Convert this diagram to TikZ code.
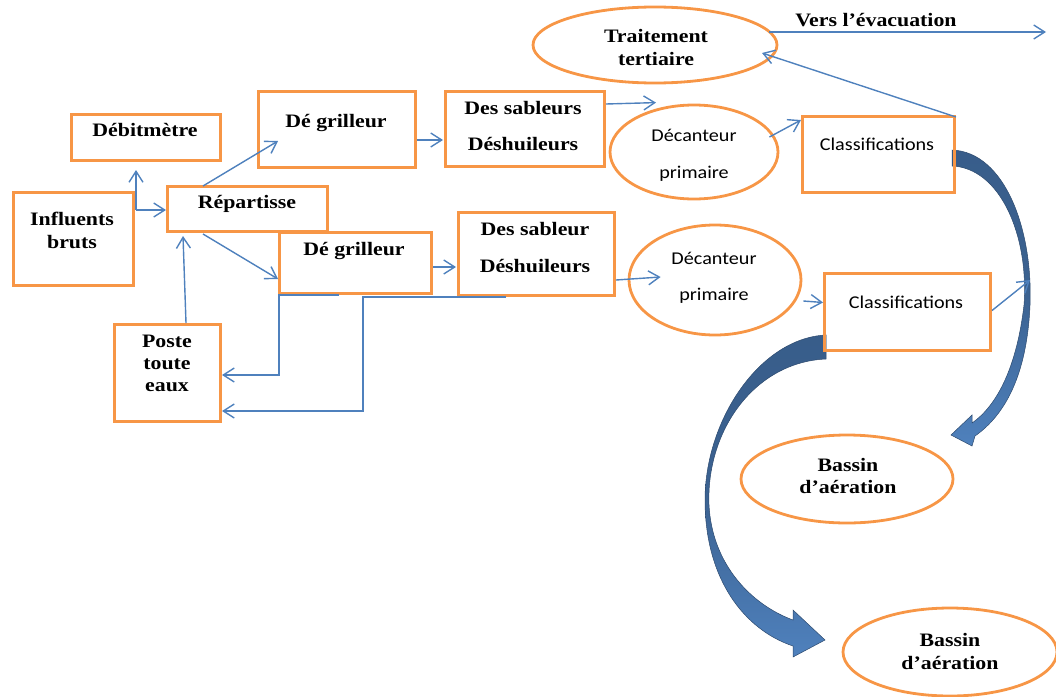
\documentclass[tikz,border=0pt]{standalone}
\usepackage{fontspec}
\usetikzlibrary{arrows.meta,shapes.geometric,calc}
\newfontfamily\tnr[FakeStretch=1.15]{Liberation Serif}
\newfontfamily\calib[FakeStretch=1.12]{Carlito}
\definecolor{orng}{RGB}{247,150,70}
\definecolor{lineblue}{RGB}{79,129,189}
\definecolor{darkb}{RGB}{56,93,138}
\definecolor{lightb}{RGB}{79,129,189}
\begin{document}
\begin{tikzpicture}[x=1pt,y=-1pt,
 box/.style={draw=orng,line width=3pt,rectangle,inner sep=0pt,anchor=north west},
 oval/.style={draw=orng,line width=2.8pt,ellipse,inner sep=0pt},
 tl/.style={font=\tnr\bfseries\fontsize{19}{22}\selectfont,inner sep=0pt,anchor=base},
 sl/.style={font=\calib\fontsize{18}{22}\selectfont,inner sep=0pt,anchor=base},
 flow/.style={draw=lineblue,line width=1.4pt,-{Straight Barb[length=11pt,width=14pt]}},
 bigarrow/.style={top color=darkb,bottom color=lightb,middle color=darkb!85!lightb,draw=darkb!80!black,line width=0.5pt}]
\useasboundingbox (0,0) rectangle (1056,696);

% thick curved arrows
\path[bigarrow] (952,150) .. controls (1005,152) and (1033,230) .. (1030,305)
  .. controls (1027,375) and (1005,415) .. (975,436) -- (972,446) -- (951,435) -- (972,415) -- (972,423)
  .. controls (998,405) and (1017,365) .. (1024,305)
  .. controls (1029,235) and (1000,168) .. (952,166) -- cycle;
\path[bigarrow] (826,335) .. controls (760,338) and (705,420) .. (705,500)
  .. controls (705,580) and (745,630) .. (793,646) -- (793,657) -- (825,640) -- (793,610) -- (793,620)
  .. controls (752,605) and (712,565) .. (709,505)
  .. controls (706,430) and (755,362) .. (826,359) -- cycle;

% boxes
\node[box,minimum width=149pt,minimum height=46pt] (deb) at (70,113) {};
\node[box,minimum width=120pt,minimum height=93pt] (inf) at (12,191) {};
\node[box,minimum width=160pt,minimum height=45pt] (rep) at (166,185) {};
\node[box,minimum width=157pt,minimum height=76pt] (dg1) at (257,90) {};
\node[box,minimum width=159pt,minimum height=75pt] (ds1) at (444,90) {};
\node[box,minimum width=152pt,minimum height=61pt] (dg2) at (278,231) {};
\node[box,minimum width=156pt,minimum height=83pt] (ds2) at (457,211) {};
\node[box,minimum width=152pt,minimum height=76pt] (cl1) at (801,115) {};
\node[box,minimum width=166pt,minimum height=77pt] (cl2) at (823,272) {};
\node[box,minimum width=106pt,minimum height=97pt] (poste) at (113,323) {};

% ellipses
\node[oval,minimum width=244pt,minimum height=76pt] (tt) at (655,45) {};
\node[oval,minimum width=168pt,minimum height=94pt] (dec1) at (694,152) {};
\node[oval,minimum width=172pt,minimum height=110pt] (dec2) at (715,280) {};
\node[oval,minimum width=212pt,minimum height=88pt] (bas1) at (847,479) {};
\node[oval,minimum width=214pt,minimum height=88pt] (bas2) at (950,652) {};

% texts
\node[tl] (tdeb) at (145,136) {Débitmètre};
\node[tl] (tinf1) at (72,225) {Influents};
\node[tl] (tinf2) at (72,248) {bruts};
\node[tl] (trep) at (247,208) {Répartisse};
\node[tl] (tdg1) at (336,127) {Dé grilleur};
\node[tl] (tdg2) at (354,255) {Dé grilleur};
\node[tl] (tp1) at (167,347) {Poste};
\node[tl] (tp2) at (167,369) {toute};
\node[tl] (tp3) at (167,391) {eaux};
\node[tl] (tds1a) at (523,114) {Des sableurs};
\node[tl] (tds1b) at (523,150) {Déshuileurs};
\node[tl] (tds2a) at (535,235) {Des sableur};
\node[tl] (tds2b) at (535,272) {Déshuileurs};
\node[tl] (ttt1) at (656,42) {Traitement};
\node[tl] (ttt2) at (656,65) {tertiaire};
\node[tl] (tevac) at (876,26) {Vers l’évacuation};
\node[tl] (tb1a) at (848,471) {Bassin};
\node[tl] (tb1b) at (848,493) {d’aération};
\node[tl] (tb2a) at (950,646) {Bassin};
\node[tl] (tb2b) at (950,669) {d’aération};
\node[sl] (tdc1a) at (694,141) {Décanteur};
\node[sl] (tdc1b) at (694,178) {primaire};
\node[sl] (tdc2a) at (714,264) {Décanteur};
\node[sl] (tdc2b) at (714,300) {primaire};
\node[sl] (tcl1) at (877,150) {Classifications};
\node[sl] (tcl2) at (906,308) {Classifications};

% connectors
\coordinate (j1) at ($(inf.north east)+(1,19)$);
\draw[flow] (j1) -- (j1 -| rep.west);
\draw[flow] (j1) -- ($(j1 |- deb.south)+(0,8)$);
\draw[flow] ($(rep.north west)+(37,1)$) -- ($(dg1.south west)+(21,-28)$);
\draw[flow] ($(rep.south west)+(37,1)$) -- ($(dg2.south west)+(0,-16)$);
\draw[flow] ($(poste.north west)+(73,0)$) -- ($(rep.south west)+(17,3)$);
\draw[flow] ($(dg1.south east)+(0,-29)$) -- ($(ds1.south west)+(-1,-28)$);
\draw[flow] ($(dg2.south east)+(0,-28)$) -- ($(ds2.south west)+(-1,-30)$);
\draw[flow] ($(ds1.north east)+(0,14)$) -- ($(dec1.north)+(-38,-1)$);
\draw[flow] ($(ds2.south east)+(0,-17)$) -- ($(dec2.west)+(33,-3)$);
\draw[flow] ($(dec1.east)+(-10,-15)$) -- ($(cl1.north west)+(0,5)$);
\draw[flow] ($(dec2.east)+(1,21)$) -- ($(cl2.west)+(0,-9.5)$);
\coordinate (c2out) at ($(cl2.north east)+(38,8)$);
\draw[flow] ($(cl2.east)+(0,-1.5)$) -- (c2out);
\draw[flow] ($(cl1.north east)+(0,2)$) -- ($(tt.center)+(107,8)$);
\coordinate (evac) at (1046,32);
\draw[flow] ($(tt.east)+(-9,-13)$) -- (evac);
\coordinate (f1) at ($(dg2.south west)+(1,80)$);
\draw[flow] ($(dg2.south west)+(61,0)$) -- ($(dg2.south west)+(1,0)$) -- (f1) -- (f1 -| poste.east);
\coordinate (f2) at ($(ds2.south west)+(-94,114)$);
\draw[flow] ($(ds2.south west)+(49,0)$) -- ($(ds2.south west)+(-94,0)$) -- (f2) -- (f2 -| poste.east);
\end{tikzpicture}
\end{document}
